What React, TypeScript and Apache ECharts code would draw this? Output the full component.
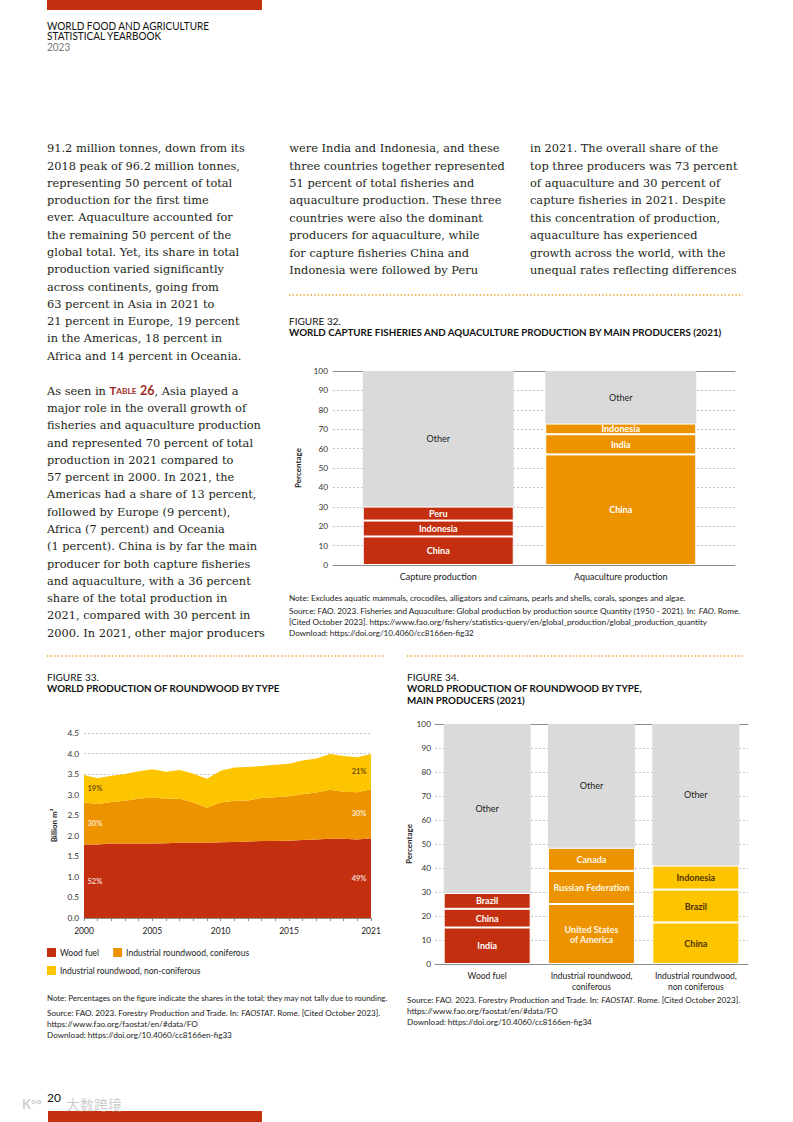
import React, { useEffect, useRef } from 'react';
import * as echarts from 'echarts';

const RED = '#C4300F';
const ORANGE = '#EE9300';
const YELLOW = '#FCC500';
const GREY = '#DADADA';

// ---------- Figure 32 data ----------
const fig32Categories = ['Capture production', 'Aquaculture production'];
const fig32Producer1 = [14.7, 57.0];
const fig32Producer2 = [8.2, 10.4];
const fig32Producer3 = [7.2, 5.5];
const fig32Other = [69.9, 27.1];
const fig32Names1 = ['China', 'China'];
const fig32Names2 = ['Indonesia', 'India'];
const fig32Names3 = ['Peru', 'Indonesia'];
const fig32Colors = [RED, ORANGE];

// ---------- Figure 33 data (billion m3) ----------
const fig33Years = ['2000', '2001', '2002', '2003', '2004', '2005', '2006', '2007', '2008', '2009', '2010',
  '2011', '2012', '2013', '2014', '2015', '2016', '2017', '2018', '2019', '2020', '2021'];
const fig33YearTicks = ['2000', '2005', '2010', '2015', '2021'];
const fig33WoodFuel = [1.79, 1.79, 1.81, 1.81, 1.81, 1.81, 1.82, 1.83, 1.83, 1.83, 1.84,
  1.85, 1.86, 1.87, 1.87, 1.88, 1.90, 1.91, 1.93, 1.93, 1.91, 1.94];
const fig33Coniferous = [1.02, 0.98, 1.01, 1.04, 1.09, 1.12, 1.08, 1.07, 0.98, 0.85, 0.97,
  1.00, 1.00, 1.05, 1.07, 1.08, 1.11, 1.14, 1.19, 1.14, 1.15, 1.19];
const fig33NonConiferous = [0.67, 0.63, 0.64, 0.65, 0.67, 0.69, 0.66, 0.70, 0.70, 0.71, 0.77,
  0.81, 0.81, 0.78, 0.79, 0.79, 0.82, 0.83, 0.87, 0.87, 0.85, 0.86];
const fig33StartShares = ['52%', '30%', '19%'];
const fig33EndShares = ['49%', '30%', '21%'];
const fig33SeriesNames = ['Wood fuel', 'Industrial roundwood, coniferous', 'Industrial roundwood, non-coniferous'];

// ---------- Figure 34 data ----------
const fig34Categories = ['Wood fuel', 'Industrial roundwood,\nconiferous', 'Industrial roundwood,\nnon coniferous'];
const fig34Producer1 = [15.2, 25.0, 17.3];
const fig34Producer2 = [7.8, 13.8, 13.7];
const fig34Producer3 = [6.6, 9.6, 10.0];
const fig34Other = [70.4, 51.6, 59.0];
const fig34Names1 = ['India', 'United States\nof America', 'China'];
const fig34Names2 = ['China', 'Russian Federation', 'Brazil'];
const fig34Names3 = ['Brazil', 'Canada', 'Indonesia'];
const fig34Colors = [RED, ORANGE, YELLOW];
const fig34LabelColors = ['#ffffff', '#fff8e6', '#4d3200'];

// ---------- Body text ----------
const col1a = [
  '91.2 million tonnes, down from its',
  '2018 peak of 96.2 million tonnes,',
  'representing 50 percent of total',
  'production for the first time',
  'ever. Aquaculture accounted for',
  'the remaining 50 percent of the',
  'global total. Yet, its share in total',
  'production varied significantly',
  'across continents, going from',
  '63 percent in Asia in 2021 to',
  '21 percent in Europe, 19 percent',
  'in the Americas, 18 percent in',
  'Africa and 14 percent in Oceania.',
];
const col1b = [
  'As seen in {tc|T}{ts|ABLE} {tn|26}, Asia played a',
  'major role in the overall growth of',
  'fisheries and aquaculture production',
  'and represented 70 percent of total',
  'production in 2021 compared to',
  '57 percent in 2000. In 2021, the',
  'Americas had a share of 13 percent,',
  'followed by Europe (9 percent),',
  'Africa (7 percent) and Oceania',
  '(1 percent). China is by far the main',
  'producer for both capture fisheries',
  'and aquaculture, with a 36 percent',
  'share of the total production in',
  '2021, compared with 30 percent in',
  '2000. In 2021, other major producers',
];
const col2 = [
  'were India and Indonesia, and these',
  'three countries together represented',
  '51 percent of total fisheries and',
  'aquaculture production. These three',
  'countries were also the dominant',
  'producers for aquaculture, while',
  'for capture fisheries China and',
  'Indonesia were followed by Peru',
];
const col3 = [
  'in 2021. The overall share of the',
  'top three producers was 73 percent',
  'of aquaculture and 30 percent of',
  'capture fisheries in 2021. Despite',
  'this concentration of production,',
  'aquaculture has experienced',
  'growth across the world, with the',
  'unequal rates reflecting differences',
];

const SANS = 'Lato';
const SERIF = 'DejaVu Serif';
const BODY_SIZE = 11.6;
const NOTE_SIZE = 7.4;

let measureCtx: CanvasRenderingContext2D | null = null;
function measure(text: string, size: number, family: string, weight = 'normal') {
  if (!measureCtx) measureCtx = document.createElement('canvas').getContext('2d');
  if (!measureCtx) return 1;
  measureCtx.font = `${weight} ${size}px "${family}"`;
  return measureCtx.measureText(text).width;
}
function fit(text: string, size: number, family: string, weight: string, target: number) {
  const w = measure(text, size, family, weight);
  return w > 0 ? target / w : 1;
}

function txt(x: number, y: number, text: string, size: number, o: any = {}) {
  return {
    type: 'text',
    x,
    y,
    scaleX: o.scaleX ?? 1,
    silent: true,
    z: 10,
    style: {
      text,
      fontSize: size,
      fontFamily: o.family ?? SANS,
      fontWeight: o.weight ?? 'normal',
      fontStyle: o.style ?? 'normal',
      fill: o.fill ?? '#1a1a1a',
      align: o.align ?? 'left',
      verticalAlign: 'middle',
      rich: o.rich,
    },
  };
}

function buildGraphics() {
  const g: any[] = [];
  // top and bottom red bars
  g.push({ type: 'rect', shape: { x: 47, y: 0, width: 215, height: 10 }, style: { fill: RED }, silent: true });
  g.push({ type: 'rect', shape: { x: 48, y: 1111, width: 214, height: 11 }, style: { fill: RED }, silent: true });

  // header
  const hScale = fit('WORLD FOOD AND AGRICULTURE', 10.8, SANS, 'normal', 163);
  g.push(txt(47, 25.5, 'WORLD FOOD AND AGRICULTURE', 10.8, { scaleX: hScale, fill: '#111' }));
  g.push(txt(47, 36, 'STATISTICAL YEARBOOK', 10.8, { scaleX: hScale, fill: '#111' }));
  g.push(txt(47, 46.7, '2023', 10.8, { scaleX: hScale, fill: '#777' }));

  // body text
  const bodyScale =
    (fit('representing 50 percent of total', BODY_SIZE, SERIF, 'normal', 187) +
      fit('three countries together represented', BODY_SIZE, SERIF, 'normal', 213.4) +
      fit('unequal rates reflecting differences', BODY_SIZE, SERIF, 'normal', 206.7)) / 3;
  const LH = 17.28;
  const bodyOpt = { family: SERIF, scaleX: bodyScale, fill: '#231f20' };
  col1a.forEach((l, i) => g.push(txt(47, 148.3 + i * LH, l, BODY_SIZE, bodyOpt)));
  col1b.forEach((l, i) =>
    g.push(
      txt(47, 390.7 + i * LH, l, BODY_SIZE, {
        ...bodyOpt,
        rich:
          i === 0
            ? {
                tc: { fontSize: BODY_SIZE, fontFamily: SANS, fontWeight: 'bold', fill: '#9c2b25' },
                ts: { fontSize: BODY_SIZE * 0.72, fontFamily: SANS, fontWeight: 'bold', fill: '#9c2b25' },
                tn: { fontSize: BODY_SIZE * 1.1, fontFamily: SANS, fontWeight: 'bold', fill: '#9c2b25' },
              }
            : undefined,
      })
    )
  );
  col2.forEach((l, i) => g.push(txt(289.3, 148.3 + i * 17.38, l, BODY_SIZE, bodyOpt)));
  col3.forEach((l, i) => g.push(txt(530, 148.3 + i * 17.38, l, BODY_SIZE, bodyOpt)));

  // dotted separators
  const dotted = (x1: number, x2: number, y: number) => ({
    type: 'line',
    shape: { x1, y1: y, x2, y2: y },
    style: { stroke: '#F0A31E', lineWidth: 1.6, lineDash: [1.4, 2.2] },
    silent: true,
  });
  g.push(dotted(289, 743, 295));
  g.push(dotted(47, 385, 656));
  g.push(dotted(407, 743, 656));

  // figure titles
  const figScale = fit('FIGURE 32.', 10, SANS, 'normal', 52);
  const titleScale = fit('WORLD CAPTURE FISHERIES AND AQUACULTURE PRODUCTION BY MAIN PRODUCERS (2021)', 9.4, SANS, 'bold', 433);
  g.push(txt(289, 321, 'FIGURE 32.', 10, { scaleX: figScale, fill: '#111' }));
  g.push(txt(289, 333, 'WORLD CAPTURE FISHERIES AND AQUACULTURE PRODUCTION BY MAIN PRODUCERS (2021)', 9.4, { scaleX: titleScale, weight: 'bold', fill: '#111' }));
  g.push(txt(47, 677, 'FIGURE 33.', 10, { scaleX: figScale, fill: '#111' }));
  g.push(txt(47, 689, 'WORLD PRODUCTION OF ROUNDWOOD BY TYPE', 9.4, { scaleX: titleScale, weight: 'bold', fill: '#111' }));
  g.push(txt(407, 677, 'FIGURE 34.', 10, { scaleX: figScale, fill: '#111' }));
  g.push(txt(407, 689, 'WORLD PRODUCTION OF ROUNDWOOD BY TYPE,', 9.4, { scaleX: titleScale, weight: 'bold', fill: '#111' }));
  g.push(txt(407, 701, 'MAIN PRODUCERS (2021)', 9.4, { scaleX: titleScale, weight: 'bold', fill: '#111' }));

  // notes and sources
  const noteScale = fit('Note: Excludes aquatic mammals, crocodiles, alligators and caimans, pearls and shells, corals, sponges and algae.', NOTE_SIZE, SANS, 'normal', 397);
  const it = { it: { fontSize: NOTE_SIZE, fontFamily: SANS, fontStyle: 'italic', fill: '#222' } };
  const nOpt = { scaleX: noteScale, fill: '#222', rich: it };
  g.push(txt(289, 598, 'Note: Excludes aquatic mammals, crocodiles, alligators and caimans, pearls and shells, corals, sponges and algae.', NOTE_SIZE, nOpt));
  g.push(txt(289, 611.5, 'Source: FAO. 2023. Fisheries and Aquaculture: Global production by production source Quantity (1950 - 2021). In: {it|FAO}. Rome.', NOTE_SIZE, nOpt));
  g.push(txt(289, 622.3, '[Cited October 2023]. https://www.fao.org/fishery/statistics-query/en/global_production/global_production_quantity', NOTE_SIZE, nOpt));
  g.push(txt(289, 633, 'Download: https://doi.org/10.4060/cc8166en-fig32', NOTE_SIZE, nOpt));

  const note33Scale = noteScale * 0.97;
  const n33Opt = { scaleX: note33Scale, fill: '#222', rich: it };
  g.push(txt(47, 998, 'Note: Percentages on the figure indicate the shares in the total; they may not tally due to rounding.', NOTE_SIZE, n33Opt));
  g.push(txt(47, 1013.5, 'Source: FAO. 2023. Forestry Production and Trade. In: {it|FAOSTAT}. Rome. [Cited October 2023].', NOTE_SIZE, nOpt));
  g.push(txt(47, 1024.5, 'https://www.fao.org/faostat/en/#data/FO', NOTE_SIZE, nOpt));
  g.push(txt(47, 1035.5, 'Download: https://doi.org/10.4060/cc8166en-fig33', NOTE_SIZE, nOpt));

  g.push(txt(407, 1000, 'Source: FAO. 2023. Forestry Production and Trade. In: {it|FAOSTAT}. Rome. [Cited October 2023].', NOTE_SIZE, nOpt));
  g.push(txt(407, 1011.5, 'https://www.fao.org/faostat/en/#data/FO', NOTE_SIZE, nOpt));
  g.push(txt(407, 1022.5, 'Download: https://doi.org/10.4060/cc8166en-fig34', NOTE_SIZE, nOpt));

  // page number and watermark
  g.push(txt(47, 1097, '20', 12, { fill: '#111' }));
  g.push(txt(22, 1104, 'K°°', 13, { fill: 'rgba(170,170,170,0.6)', weight: 'bold' }));
  g.push(txt(66, 1104, '大数跨境', 14, { family: 'Noto Sans CJK SC', fill: 'rgba(170,170,170,0.6)' }));
  return g;
}

function barLayer(vals: number[], names: string[], colors: string[], labelColors: string[] | string, stack: string, xi: number, yi: number, barWidth: number, name: string) {
  return {
    type: 'bar',
    name,
    stack,
    xAxisIndex: xi,
    yAxisIndex: yi,
    barWidth,
    z: 3,
    data: vals.map((v, i) => ({
      value: v,
      itemStyle: { color: colors[i], borderColor: '#ffffff', borderWidth: 1 },
      label: {
        show: true,
        position: 'inside',
        formatter: names[i],
        color: Array.isArray(labelColors) ? labelColors[i] : labelColors,
        fontFamily: SANS,
        fontWeight: 'bold',
        fontSize: 9,
        lineHeight: 10,
        align: 'center',
      },
    })),
  };
}

function otherLayer(vals: number[], stack: string, xi: number, yi: number, barWidth: number) {
  return {
    type: 'bar',
    name: 'Other',
    stack,
    xAxisIndex: xi,
    yAxisIndex: yi,
    barWidth,
    z: 3,
    data: vals.map((v) => ({
      value: v,
      itemStyle: { color: GREY },
      label: { show: true, position: 'inside', formatter: 'Other', color: '#222', fontFamily: SANS, fontSize: 9 },
    })),
  };
}

const splitDash = { show: true, lineStyle: { color: '#9a9a9a', width: 0.6, type: [2, 2] } };
const axisLineStyle = { show: true, lineStyle: { color: '#8c8c8c', width: 1 } };
const yLabel = { fontFamily: SANS, fontSize: 8.3, color: '#333' };

function buildOption() {
  const stacks = [fig33WoodFuel, fig33Coniferous, fig33NonConiferous];
  const bandMid = (i: number, s: number) => {
    let base = 0;
    for (let k = 0; k < s; k++) base += stacks[k][i];
    return base + stacks[s][i] / 2;
  };
  const last = fig33Years.length - 1;
  const shareLabels: any[] = [];
  for (let s = 0; s < 3; s++) {
    shareLabels.push({
      value: [0, bandMid(0, s)],
      label: { show: true, formatter: fig33StartShares[s], position: 'right', distance: 3, color: s === 2 ? '#4a2600' : '#ffffff', fontFamily: SANS, fontWeight: 'bold', fontSize: 7.5 },
    });
    shareLabels.push({
      value: [last, bandMid(last, s)],
      label: { show: true, formatter: fig33EndShares[s], position: 'left', distance: 4, color: s === 2 ? '#4a2600' : '#ffffff', fontFamily: SANS, fontWeight: 'bold', fontSize: 7.5 },
    });
  }
  const f33Colors = [RED, ORANGE, YELLOW];

  return {
    animation: false,
    backgroundColor: '#ffffff',
    textStyle: { fontFamily: SANS },
    grid: [
      { left: 333, top: 371, width: 402, height: 194, outerBoundsMode: 'none' },
      { left: 347, top: 371, width: 365, height: 194, outerBoundsMode: 'none' },
      { left: 84, top: 733, width: 287, height: 185, outerBoundsMode: 'none' },
      { left: 435, top: 724, width: 313, height: 240, outerBoundsMode: 'none' },
    ],
    xAxis: [
      { gridIndex: 0, type: 'category', data: ['', ''], position: 'bottom', axisLine: axisLineStyle, axisTick: { show: false }, axisLabel: { show: false }, splitLine: { show: false } },
      { gridIndex: 0, type: 'category', data: ['', ''], position: 'top', axisLine: axisLineStyle, axisTick: { show: false }, axisLabel: { show: false }, splitLine: { show: false } },
      { gridIndex: 1, type: 'category', data: fig32Categories, axisLine: { show: false }, axisTick: { show: false }, axisLabel: { interval: 0, fontFamily: SANS, fontSize: 9, color: '#222', margin: 7 }, splitLine: { show: false } },
      {
        gridIndex: 2, type: 'category', data: fig33Years, boundaryGap: false, axisLine: axisLineStyle,
        axisTick: { show: true, interval: 0, length: 3, lineStyle: { color: '#8c8c8c' } },
        axisLabel: { interval: (_i: number, v: string) => fig33YearTicks.includes(v), fontFamily: SANS, fontSize: 8.5, color: '#222', margin: 8 },
        splitLine: { show: false },
      },
      { gridIndex: 3, type: 'category', data: fig34Categories, axisLine: axisLineStyle, axisTick: { show: false }, axisLabel: { interval: 0, hideOverlap: false, fontFamily: SANS, fontSize: 8.5, color: '#222', margin: 6, lineHeight: 11 }, splitLine: { show: false } },
      { gridIndex: 3, type: 'category', data: fig34Categories, position: 'top', axisLine: axisLineStyle, axisTick: { show: false }, axisLabel: { show: false }, splitLine: { show: false } },
    ],
    yAxis: [
      {
        gridIndex: 0, type: 'value', min: 0, max: 100, interval: 10, axisLine: { show: false }, axisTick: { show: false },
        axisLabel: { ...yLabel, margin: 5 }, splitLine: splitDash,
        name: 'Percentage', nameLocation: 'middle', nameGap: 31, nameRotate: 90,
        nameTextStyle: { fontFamily: SANS, fontWeight: 'bold', fontSize: 8, color: '#222' },
      },
      { gridIndex: 1, type: 'value', min: 0, max: 100, show: false },
      {
        gridIndex: 2, type: 'value', min: 0, max: 4.5, interval: 0.5, axisLine: { show: false }, axisTick: { show: false },
        axisLabel: { ...yLabel, margin: 5, formatter: (v: number) => v.toFixed(1) }, splitLine: splitDash,
        name: 'Billion m³', nameLocation: 'middle', nameGap: 26, nameRotate: 90,
        nameTextStyle: { fontFamily: SANS, fontWeight: 'bold', fontSize: 8, color: '#222' },
      },
      {
        gridIndex: 3, type: 'value', min: 0, max: 100, interval: 10, axisLine: { show: false }, axisTick: { show: false },
        axisLabel: { ...yLabel, margin: 4 }, splitLine: splitDash,
        name: 'Percentage', nameLocation: 'middle', nameGap: 20, nameRotate: 90,
        nameTextStyle: { fontFamily: SANS, fontWeight: 'bold', fontSize: 8, color: '#222' },
      },
    ],
    legend: [
      {
        data: [fig33SeriesNames[0], fig33SeriesNames[1]], left: 47, top: 948, padding: 0, orient: 'horizontal',
        icon: 'rect', itemWidth: 9, itemHeight: 9, itemGap: 14, selectedMode: false,
        textStyle: { fontFamily: SANS, fontSize: 8.5, color: '#222', padding: [0, 0, 0, -1] },
      },
      {
        data: [fig33SeriesNames[2]], left: 47, top: 966, padding: 0, orient: 'horizontal',
        icon: 'rect', itemWidth: 9, itemHeight: 9, itemGap: 14, selectedMode: false,
        textStyle: { fontFamily: SANS, fontSize: 8.5, color: '#222', padding: [0, 0, 0, -1] },
      },
    ],
    graphic: buildGraphics(),
    series: [
      barLayer(fig32Producer1, fig32Names1, fig32Colors, '#ffffff', 'f32', 2, 1, 151, 'Producer 1'),
      barLayer(fig32Producer2, fig32Names2, fig32Colors, '#ffffff', 'f32', 2, 1, 151, 'Producer 2'),
      barLayer(fig32Producer3, fig32Names3, fig32Colors, '#ffffff', 'f32', 2, 1, 151, 'Producer 3'),
      otherLayer(fig32Other, 'f32', 2, 1, 151),
      ...[fig33WoodFuel, fig33Coniferous, fig33NonConiferous].map((d, s) => ({
        type: 'line',
        name: fig33SeriesNames[s],
        stack: 'f33',
        xAxisIndex: 3,
        yAxisIndex: 2,
        data: d,
        color: f33Colors[s],
        symbol: 'none',
        showSymbol: false,
        lineStyle: { width: 0, color: f33Colors[s] },
        itemStyle: { color: f33Colors[s] },
        areaStyle: { color: f33Colors[s], opacity: 1 },
        z: 2,
      })),
      {
        type: 'scatter',
        name: 'shares',
        xAxisIndex: 3,
        yAxisIndex: 2,
        symbolSize: 1,
        itemStyle: { color: 'rgba(0,0,0,0)' },
        data: shareLabels,
        z: 5,
      },
      barLayer(fig34Producer1, fig34Names1, fig34Colors, fig34LabelColors, 'f34', 4, 3, 87, 'Producer 1 '),
      barLayer(fig34Producer2, fig34Names2, fig34Colors, fig34LabelColors, 'f34', 4, 3, 87, 'Producer 2 '),
      barLayer(fig34Producer3, fig34Names3, fig34Colors, fig34LabelColors, 'f34', 4, 3, 87, 'Producer 3 '),
      otherLayer(fig34Other, 'f34', 4, 3, 87),
    ],
  };
}

export default function App() {
  const ref = useRef<HTMLDivElement>(null);
  useEffect(() => {
    if (!ref.current) return;
    const chart = echarts.init(ref.current, undefined, { renderer: 'svg' });
    chart.setOption(buildOption() as any);
    return () => chart.dispose();
  }, []);
  return (
    <div
      ref={ref}
      style={{ position: 'absolute', left: 0, top: 0, width: 793, height: 1122, background: '#fff' }}
    />
  );
}
